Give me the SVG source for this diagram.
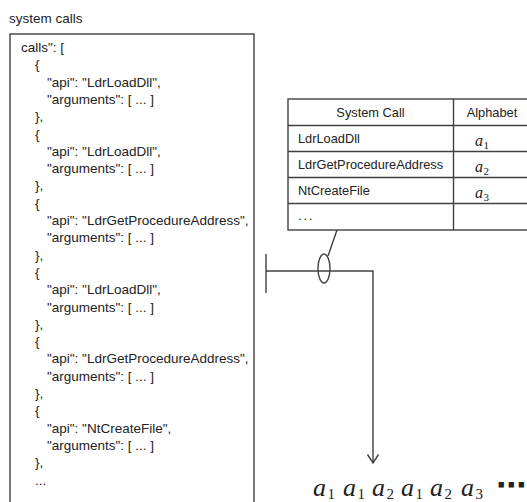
<svg xmlns="http://www.w3.org/2000/svg" width="527" height="502" viewBox="0 0 527 502">
  <style>
    .txt { font-family: "Liberation Sans", Arial, sans-serif; font-size: 13.5px; fill: #222; }
    .tbl { font-family: "Liberation Sans", Arial, sans-serif; font-size: 12.8px; fill: #222; }
    .ln { stroke: #404040; stroke-width: 1.4; fill: none; }
    .math { font-family: "Liberation Serif", "Times New Roman", serif; font-style: italic; fill: #222; }
    .sub { font-family: "Liberation Serif", "Times New Roman", serif; fill: #222; }
  </style>
  <defs>
    <marker id="openArrow" markerUnits="userSpaceOnUse" viewBox="-10 -7 12 14" refX="0" refY="0" markerWidth="12" markerHeight="14" orient="auto">
      <path d="M-8.5,-5.5 L0,0 L-8.5,5.5" fill="none" stroke="#404040" stroke-width="1.4"/>
    </marker>
  </defs>
  <rect width="527" height="502" fill="#fff"/>

  <!-- JSON log of recorded system calls -->
  <g id="system-calls">
    <text class="txt" x="9" y="23">system calls</text>
    <rect class="ln" x="10" y="34" width="244" height="480"/>
    <text class="txt" x="21" y="52">calls": [</text>
    <text class="txt" x="35" y="69.3">{</text>
    <text class="txt" x="47" y="86.6">"api": "LdrLoadDll",</text>
    <text class="txt" x="47" y="103.9">"arguments": [ ... ]</text>
    <text class="txt" x="35" y="121.2">},</text>
    <text class="txt" x="35" y="138.5">{</text>
    <text class="txt" x="47" y="155.8">"api": "LdrLoadDll",</text>
    <text class="txt" x="47" y="173.1">"arguments": [ ... ]</text>
    <text class="txt" x="35" y="190.4">},</text>
    <text class="txt" x="35" y="207.7">{</text>
    <text class="txt" x="47" y="225">"api": "LdrGetProcedureAddress",</text>
    <text class="txt" x="47" y="242.3">"arguments": [ ... ]</text>
    <text class="txt" x="35" y="259.6">},</text>
    <text class="txt" x="35" y="276.9">{</text>
    <text class="txt" x="47" y="294.2">"api": "LdrLoadDll",</text>
    <text class="txt" x="47" y="311.5">"arguments": [ ... ]</text>
    <text class="txt" x="35" y="328.8">},</text>
    <text class="txt" x="35" y="346.1">{</text>
    <text class="txt" x="47" y="363.4">"api": "LdrGetProcedureAddress",</text>
    <text class="txt" x="47" y="380.7">"arguments": [ ... ]</text>
    <text class="txt" x="35" y="398">},</text>
    <text class="txt" x="35" y="415.3">{</text>
    <text class="txt" x="47" y="432.6">"api": "NtCreateFile",</text>
    <text class="txt" x="47" y="449.9">"arguments": [ ... ]</text>
    <text class="txt" x="35" y="467.2">},</text>
    <text class="txt" x="35" y="484.5">...</text>
  </g>

  <!-- Mapping table: system call to alphabet symbol -->
  <g id="alphabet-table">
    <rect class="ln" x="288" y="99" width="242" height="131" stroke-width="1.2"/>
    <line class="ln" x1="288" y1="125.5" x2="530" y2="125.5" stroke-width="2"/>
    <line class="ln" x1="288" y1="151.5" x2="530" y2="151.5" stroke-width="1.2"/>
    <line class="ln" x1="288" y1="177.5" x2="530" y2="177.5" stroke-width="1.2"/>
    <line class="ln" x1="288" y1="203.5" x2="530" y2="203.5" stroke-width="1.2"/>
    <line class="ln" x1="453.5" y1="99" x2="453.5" y2="230" stroke-width="1.2"/>
    <text class="tbl" x="370.5" y="116.5" text-anchor="middle">System Call</text>
    <text class="tbl" x="492" y="116.5" text-anchor="middle">Alphabet</text>
    <text class="tbl" x="298" y="143">LdrLoadDll</text>
    <text class="tbl" x="298" y="169">LdrGetProcedureAddress</text>
    <text class="tbl" x="298" y="195">NtCreateFile</text>
    <text class="tbl" x="298" y="220" letter-spacing="2">...</text>
    <text class="math" x="475" y="146" font-size="16">a</text>
    <text class="sub" x="483.5" y="149" font-size="11">1</text>
    <text class="math" x="475" y="172" font-size="16">a</text>
    <text class="sub" x="483.5" y="175" font-size="11">2</text>
    <text class="math" x="475" y="198" font-size="16">a</text>
    <text class="sub" x="483.5" y="201" font-size="11">3</text>
  </g>

  <!-- Resulting symbol sequence -->
  <g id="sequence">
    <text class="math" x="313" y="495.5" font-size="26">a</text>
    <text class="sub" x="327.5" y="498.5" font-size="15">1</text>
    <text class="math" x="343" y="495.5" font-size="26">a</text>
    <text class="sub" x="357.5" y="498.5" font-size="15">1</text>
    <text class="math" x="372" y="495.5" font-size="26">a</text>
    <text class="sub" x="386.5" y="498.5" font-size="15">2</text>
    <text class="math" x="401" y="495.5" font-size="26">a</text>
    <text class="sub" x="415.5" y="498.5" font-size="15">1</text>
    <text class="math" x="430" y="495.5" font-size="26">a</text>
    <text class="sub" x="444.5" y="498.5" font-size="15">2</text>
    <text class="math" x="461" y="495.5" font-size="26">a</text>
    <text class="sub" x="475.5" y="498.5" font-size="15">3</text>
    <text x="496" y="495" font-family="DejaVu Sans, sans-serif" font-weight="bold" font-size="30" fill="#222">⋯</text>
  </g>

  <!-- Connectors -->
  <g id="connectors">
    <line class="ln" x1="337" y1="230" x2="328" y2="256"/>
    <ellipse class="ln" cx="324" cy="268.5" rx="6" ry="14.5"/>
    <line class="ln" x1="266" y1="254" x2="266" y2="293"/>
    <polyline class="ln" points="266,271 373,271 373,463" marker-end="url(#openArrow)"/>
  </g>
</svg>
